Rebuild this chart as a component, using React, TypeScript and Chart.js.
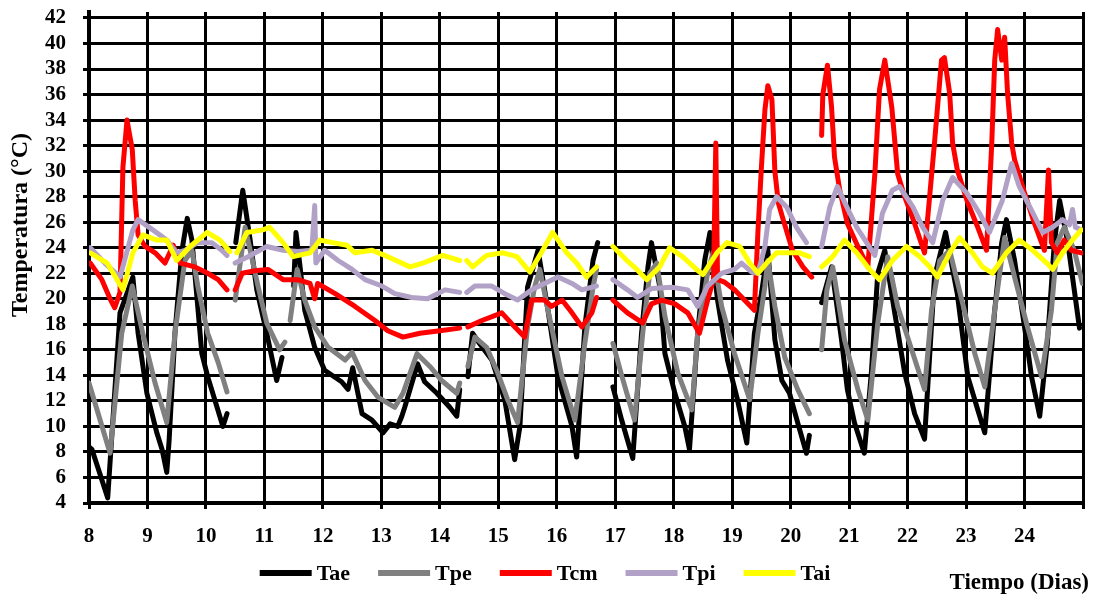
import { useEffect, useRef } from 'react';
import { Chart, registerables } from 'chart.js';

Chart.register(...registerables);

const FONT = '"Liberation Serif", "Times New Roman", serif';

type Pt = [number, number | null];

// Daily ticks on the time axis (dias) and temperature ticks (°C)
const diasTicks = [8, 9, 10, 11, 12, 13, 14, 15, 16, 17, 18, 19, 20, 21, 22, 23, 24, 25];
const tempTicks = [4, 6, 8, 10, 12, 14, 16, 18, 20, 22, 24, 26, 28, 30, 32, 34, 36, 38, 40, 42];

const seriesNames = ['Tae', 'Tpe', 'Tcm', 'Tpi', 'Tai'];
const seriesColors = ['#000000', '#808080', '#ff0000', '#b1a1c7', '#ffff00'];

// [día, temperatura]; null marks a break in the record
const tae: Pt[] = [
  [8.0, 8.4], [8.05, 8.2], [8.15, 6.8], [8.32, 4.4], [8.53, 18.9], [8.75, 21.7], [8.84, 17.3],
  [8.99, 12.6], [9.16, 9.5], [9.25, 8.2], [9.33, 6.4], [9.37, 8.9], [9.47, 17.3], [9.59, 23.8],
  [9.68, 26.3], [9.76, 24.6], [9.85, 19.9], [9.93, 15.7], [10.03, 13.9], [10.19, 11.5],
  [10.29, 10.0], [10.36, 11.0], [10.42, null],
  [10.51, 24.4], [10.63, 28.5], [10.75, 24.8], [10.87, 20.7], [11.04, 17.3], [11.21, 13.6],
  [11.3, 15.4], [11.37, null],
  [11.5, 21.0], [11.54, 25.2], [11.61, 22.5], [11.69, 19.1], [11.86, 16.2], [12.03, 14.4],
  [12.32, 13.5], [12.43, 12.9], [12.51, 14.6], [12.67, 11.0], [12.84, 10.5], [13.03, 9.5],
  [13.15, 10.2], [13.28, 10.0], [13.35, 10.8], [13.4, 11.5], [13.62, 14.9], [13.74, 13.5],
  [13.95, 12.6], [14.17, 11.5], [14.29, 10.8], [14.34, 12.9], [14.4, null],
  [14.48, 13.9], [14.56, 17.3], [14.68, 16.5], [14.89, 15.2], [15.11, 12.1], [15.28, 7.4],
  [15.37, 10.0], [15.5, 20.9], [15.68, 23.8], [15.85, 19.1], [16.02, 13.9], [16.26, 10.0],
  [16.34, 7.6], [16.48, 17.8], [16.62, 23.0], [16.7, 24.4], [16.85, null],
  [16.96, 13.1], [17.11, 10.5], [17.3, 7.5], [17.45, 17.3], [17.56, 22.5], [17.62, 24.4],
  [17.76, 21.0], [17.85, 15.7], [18.02, 12.6], [18.19, 10.0], [18.27, 8.2], [18.41, 17.3],
  [18.53, 23.0], [18.62, 25.2], [18.75, 19.9], [18.92, 15.2], [19.09, 12.1], [19.25, 8.7],
  [19.38, 17.3], [19.5, 20.4], [19.61, 23.8], [19.73, 16.8], [19.85, 13.6], [19.98, 12.6],
  [20.12, 10.3], [20.27, 7.9], [20.32, 9.3], [20.42, null],
  [20.53, 19.7], [20.7, 22.5], [20.87, 16.8], [20.97, 12.9], [21.09, 10.3], [21.26, 7.9],
  [21.38, 14.2], [21.49, 22.0], [21.61, 23.8], [21.78, 18.9], [21.95, 14.2], [22.12, 11.0],
  [22.29, 9.0], [22.46, 21.7], [22.65, 25.2], [22.85, 20.4], [23.03, 13.9], [23.2, 11.3],
  [23.32, 9.5], [23.49, 19.1], [23.61, 24.4], [23.69, 26.2], [23.83, 23.0], [24.0, 17.8],
  [24.12, 13.9], [24.26, 10.8], [24.39, 16.5], [24.51, 24.4], [24.6, 27.7], [24.74, 24.4],
  [24.94, 17.7],
];

const tpe: Pt[] = [
  [8.0, 13.4], [8.19, 10.5], [8.36, 7.9], [8.56, 17.3], [8.74, 21.0], [8.92, 17.3], [9.13, 13.4],
  [9.33, 10.3], [9.47, 17.3], [9.64, 23.0], [9.76, 23.8], [9.86, 21.0], [10.03, 17.3],
  [10.21, 15.0], [10.36, 12.7], [10.42, null],
  [10.5, 19.9], [10.67, 25.6], [10.89, 21.0], [11.04, 18.1], [11.26, 16.0], [11.35, 16.6],
  [11.39, null],
  [11.44, 18.3], [11.56, 22.3], [11.69, 19.9], [11.86, 17.8], [12.09, 16.2], [12.38, 15.2],
  [12.5, 15.8], [12.72, 13.6], [12.94, 12.3], [13.23, 11.5], [13.37, 12.6], [13.61, 15.7],
  [13.83, 14.7], [14.03, 13.6], [14.29, 12.6], [14.34, 13.4], [14.4, null],
  [14.48, 14.7], [14.6, 17.0], [14.8, 16.2], [14.99, 14.2], [15.16, 12.1], [15.33, 10.3],
  [15.5, 17.8], [15.62, 20.9], [15.71, 22.3], [15.85, 19.1], [16.09, 13.9], [16.31, 10.5],
  [16.48, 16.5], [16.62, 20.9], [16.68, 22.3], [16.85, null],
  [16.96, 16.5], [17.11, 14.0], [17.33, 10.5], [17.47, 17.3], [17.59, 22.0], [17.71, 22.8],
  [17.85, 18.6], [18.07, 14.2], [18.31, 11.3], [18.41, 17.3], [18.58, 22.0], [18.67, 23.6],
  [18.82, 19.4], [19.04, 15.7], [19.3, 12.1], [19.44, 17.3], [19.56, 21.0], [19.61, 23.0],
  [19.73, 19.4], [19.9, 15.4], [20.12, 12.9], [20.32, 11.0], [20.42, null],
  [20.53, 16.0], [20.62, 20.7], [20.72, 22.5], [20.92, 16.8], [21.15, 12.9], [21.32, 10.5],
  [21.49, 18.1], [21.66, 23.3], [21.83, 19.4], [22.07, 16.0], [22.29, 12.9], [22.41, 19.1],
  [22.55, 23.0], [22.72, 23.8], [22.97, 19.1], [23.15, 15.7], [23.32, 13.1], [23.49, 19.1],
  [23.66, 24.8], [23.83, 21.7], [24.05, 17.8], [24.29, 13.9], [24.46, 19.1], [24.56, 24.4],
  [24.68, 25.6], [24.85, 23.8], [24.99, 21.2],
];

const tcm: Pt[] = [
  [8.02, 22.8], [8.22, 21.5], [8.36, 20.0], [8.44, 19.3], [8.53, 20.5], [8.58, 30.3], [8.65, 34.0],
  [8.74, 31.7], [8.79, 27.7], [8.84, 25.0], [8.96, 24.1], [9.13, 23.6], [9.3, 22.8], [9.44, 24.2],
  [9.56, 22.8], [9.81, 22.5], [10.03, 22.0], [10.21, 21.5], [10.36, 20.7], [10.42, null],
  [10.5, 20.7], [10.62, 22.0], [10.84, 22.2], [11.06, 22.3], [11.32, 21.5], [11.57, 21.5],
  [11.78, 21.2], [11.86, 20.0], [11.91, 21.2], [12.21, 20.4], [12.55, 19.4], [12.89, 18.3],
  [13.11, 17.5], [13.37, 17.0], [13.66, 17.3], [14.0, 17.5], [14.34, 17.7], [14.4, null],
  [14.48, 17.8], [14.72, 18.3], [15.06, 18.9], [15.28, 17.8], [15.45, 17.0], [15.57, 19.9],
  [15.79, 19.9], [15.91, 19.4], [16.09, 19.9], [16.26, 18.9], [16.43, 17.8], [16.6, 18.9],
  [16.68, 20.1], [16.85, null],
  [16.96, 19.9], [17.21, 18.9], [17.47, 18.1], [17.62, 19.6], [17.79, 19.9], [18.02, 19.6],
  [18.24, 18.9], [18.44, 17.3], [18.58, 19.9], [18.68, 21.5], [18.72, 32.2], [18.75, 21.5],
  [18.87, 21.3], [19.04, 20.7], [19.21, 19.9], [19.38, 19.1], [19.44, 25.2], [19.5, 30.3],
  [19.56, 34.8], [19.61, 36.7], [19.68, 35.6], [19.73, 30.0], [19.79, 27.5], [19.86, 26.4],
  [20.03, 23.8], [20.21, 22.5], [20.36, 21.7], [20.44, null],
  [20.53, 32.8], [20.55, 36.0], [20.63, 38.3], [20.7, 35.0], [20.75, 31.1], [20.84, 28.5],
  [20.97, 25.9], [21.15, 24.1], [21.32, 22.5], [21.44, 29.8], [21.52, 36.4], [21.61, 38.7],
  [21.73, 35.0], [21.83, 29.8], [21.95, 28.0], [22.12, 25.9], [22.29, 23.6], [22.46, 32.2],
  [22.58, 38.7], [22.63, 38.9], [22.72, 36.1], [22.77, 32.2], [22.85, 30.1], [23.03, 27.5],
  [23.2, 25.6], [23.35, 23.8], [23.44, 32.2], [23.49, 38.7], [23.54, 41.1], [23.61, 38.7],
  [23.66, 40.5], [23.71, 36.1], [23.78, 32.2], [23.83, 30.9], [24.0, 28.3], [24.17, 25.9],
  [24.34, 23.8], [24.41, 30.1], [24.46, 24.4], [24.56, 23.6], [24.68, 24.6], [24.8, 23.8],
  [24.97, 23.6],
];

const tpi: Pt[] = [
  [8.02, 24.0], [8.27, 22.8], [8.53, 21.7], [8.75, 25.4], [8.84, 26.2], [9.09, 25.4], [9.33, 24.6],
  [9.5, 23.6], [9.64, 23.8], [9.86, 24.4], [10.1, 24.4], [10.27, 23.8], [10.36, 23.4],
  [10.42, null],
  [10.5, 22.8], [10.72, 23.3], [11.04, 24.1], [11.32, 23.8], [11.57, 23.7], [11.81, 23.8],
  [11.86, 27.3], [11.88, 22.8], [12.03, 23.8], [12.26, 23.0], [12.5, 22.3], [12.72, 21.5],
  [13.01, 21.0], [13.23, 20.4], [13.52, 20.1], [13.79, 20.0], [14.09, 20.7], [14.34, 20.5],
  [14.4, null],
  [14.46, 20.5], [14.6, 21.0], [14.89, 21.0], [15.11, 20.4], [15.33, 19.9], [15.57, 20.7],
  [15.79, 21.2], [16.02, 21.7], [16.26, 21.2], [16.43, 20.7], [16.68, 21.0], [16.85, null],
  [16.96, 21.5], [17.21, 20.7], [17.38, 20.1], [17.62, 20.8], [17.97, 20.9], [18.24, 20.7],
  [18.41, 19.4], [18.58, 21.0], [18.82, 22.0], [19.04, 22.3], [19.16, 22.8], [19.33, 22.1],
  [19.44, 22.0], [19.56, 24.1], [19.64, 27.0], [19.76, 28.0], [19.93, 27.2], [20.1, 25.6],
  [20.27, 24.4], [20.42, null],
  [20.53, 24.1], [20.67, 27.2], [20.8, 28.8], [20.96, 27.2], [21.13, 25.6], [21.3, 24.4],
  [21.44, 23.4], [21.57, 26.7], [21.74, 28.5], [21.86, 28.8], [22.09, 27.2], [22.26, 25.6],
  [22.43, 24.4], [22.6, 27.7], [22.77, 29.5], [23.01, 28.3], [23.23, 26.7], [23.4, 25.2],
  [23.62, 27.7], [23.78, 30.6], [23.91, 28.8], [24.09, 27.2], [24.31, 25.2], [24.48, 25.6],
  [24.65, 26.2], [24.77, 25.8], [24.82, 27.0], [24.87, 25.6], [24.97, 25.4],
];

const tai: Pt[] = [
  [8.02, 23.6], [8.31, 22.8], [8.58, 20.7], [8.75, 23.6], [8.92, 25.0], [9.16, 24.6], [9.33, 24.6],
  [9.5, 23.0], [9.73, 24.1], [10.02, 25.2], [10.24, 24.6], [10.41, 23.7], [10.45, null],
  [10.53, 23.6], [10.7, 25.2], [10.97, 25.4], [11.09, 25.6], [11.32, 24.4], [11.49, 23.3],
  [11.78, 23.6], [11.95, 24.6], [12.17, 24.4], [12.41, 24.2], [12.55, 23.6], [12.84, 23.8],
  [13.11, 23.3], [13.49, 22.5], [13.71, 22.8], [14.05, 23.4], [14.34, 23.0], [14.4, null],
  [14.46, 23.0], [14.56, 22.5], [14.8, 23.4], [15.08, 23.6], [15.32, 23.3], [15.54, 22.1],
  [15.76, 23.8], [15.93, 25.2], [16.17, 23.6], [16.34, 22.8], [16.51, 21.7], [16.68, 22.5],
  [16.85, null],
  [16.96, 24.1], [17.2, 23.0], [17.37, 22.3], [17.54, 21.5], [17.76, 22.5], [17.93, 24.0],
  [18.15, 23.3], [18.39, 22.3], [18.5, 21.9], [18.74, 23.6], [18.91, 24.4], [19.13, 24.1],
  [19.3, 22.8], [19.44, 22.0], [19.59, 22.8], [19.76, 23.6], [19.98, 23.6], [20.15, 23.6],
  [20.32, 23.3], [20.42, null],
  [20.53, 22.5], [20.72, 23.3], [20.92, 24.6], [21.13, 23.6], [21.35, 22.3], [21.52, 21.5],
  [21.74, 23.0], [21.98, 24.1], [22.21, 23.3], [22.38, 22.5], [22.51, 21.7], [22.72, 23.6],
  [22.89, 24.8], [23.11, 23.6], [23.28, 22.5], [23.45, 22.0], [23.69, 23.6], [23.91, 24.6],
  [24.14, 23.8], [24.38, 22.8], [24.48, 22.3], [24.65, 23.6], [24.82, 24.6], [24.97, 25.4],
];

const seriesData = [tae, tpe, tcm, tpi, tai];

const yTitle = 'Temperatura (°C)';
const xTitle = 'Tiempo (Dias)';

// Axis titles beside / beneath the plot
const axisTitles = {
  id: 'axisTitles',
  afterDraw(chart: any) {
    const ctx: CanvasRenderingContext2D = chart.ctx;
    ctx.save();
    ctx.fillStyle = '#000';
    ctx.font = `bold 24px ${FONT}`;
    ctx.textAlign = 'center';
    ctx.textBaseline = 'middle';
    ctx.translate(21, 225);
    ctx.rotate(-Math.PI / 2);
    ctx.fillText(yTitle, 0, 0);
    ctx.restore();

    ctx.save();
    ctx.fillStyle = '#000';
    ctx.font = `bold 23px ${FONT}`;
    ctx.textAlign = 'right';
    ctx.textBaseline = 'alphabetic';
    ctx.fillText(xTitle, 1089, 589);
    ctx.restore();
  },
};

// Legend row under the plot: a line sample followed by the series name
const legendRow = {
  id: 'legendRow',
  afterDraw(chart: any) {
    const ctx: CanvasRenderingContext2D = chart.ctx;
    const sets = chart.data.datasets;
    const sample = 52;
    const gapText = 5;
    const gapItem = 28;
    ctx.save();
    ctx.font = `bold 22px ${FONT}`;
    const widths: number[] = sets.map((d: any) => ctx.measureText(d.label).width);
    const total = widths.reduce((a, w) => a + sample + gapText + w, 0) + gapItem * (sets.length - 1);
    let x = 545 - total / 2;
    const y = 573;
    for (let i = 0; i < sets.length; i++) {
      const d = sets[i];
      ctx.strokeStyle = d.borderColor;
      ctx.lineWidth = 6;
      ctx.beginPath();
      ctx.moveTo(x, y);
      ctx.lineTo(x + sample, y);
      ctx.stroke();
      ctx.fillStyle = '#000';
      ctx.textAlign = 'left';
      ctx.textBaseline = 'middle';
      ctx.fillText(d.label, x + sample + gapText, y + 1);
      x += sample + gapText + widths[i] + gapItem;
    }
    ctx.restore();
  },
};

export default function App() {
  const ref = useRef<HTMLCanvasElement>(null);

  useEffect(() => {
    if (!ref.current) return;
    const datasets = seriesNames.map((name, i) => ({
      label: name,
      data: seriesData[i].map(([x, y]) => ({ x, y })),
      borderColor: seriesColors[i],
      backgroundColor: seriesColors[i],
      borderWidth: 5,
      pointRadius: 0,
      pointHoverRadius: 0,
      tension: 0,
      borderJoinStyle: 'round' as const,
      borderCapStyle: 'round' as const,
      spanGaps: false,
      order: seriesNames.length - i,
    }));

    const chart = new Chart(ref.current, {
      type: 'line',
      data: { datasets },
      options: {
        animation: false,
        responsive: false,
        devicePixelRatio: 1,
        events: [],
        layout: { padding: { top: 12, right: 11, bottom: 0, left: 0 } },
        plugins: { legend: { display: false }, tooltip: { enabled: false } },
        scales: {
          x: {
            type: 'linear',
            min: diasTicks[0],
            max: diasTicks[diasTicks.length - 1],
            afterBuildTicks: (s: any) => {
              s.ticks = diasTicks.map((v) => ({ value: v }));
            },
            afterFit: (s: any) => {
              s.height = 93;
              s.paddingLeft = 0;
              s.paddingRight = 0;
            },
            ticks: {
              autoSkip: false,
              maxRotation: 0,
              padding: 17,
              color: '#000',
              font: { family: FONT, size: 21, weight: 'bold', lineHeight: 1 },
              callback: (v: any) => (v === diasTicks[diasTicks.length - 1] ? '' : String(v)),
            },
            grid: { color: '#000', lineWidth: 3, tickLength: 6, tickWidth: 3, tickColor: '#000' },
            border: { color: '#000', width: 4 },
          },
          y: {
            type: 'linear',
            min: tempTicks[0],
            max: 42.47,
            afterBuildTicks: (s: any) => {
              s.ticks = tempTicks.map((v) => ({ value: v }));
            },
            afterFit: (s: any) => {
              s.width = 89;
              s.paddingTop = 0;
              s.paddingBottom = 0;
            },
            ticks: {
              padding: 17,
              color: '#000',
              font: { family: FONT, size: 21, weight: 'bold', lineHeight: 1 },
            },
            grid: { color: '#000', lineWidth: 3, tickLength: 6, tickWidth: 3, tickColor: '#000' },
            border: { color: '#000', width: 4 },
          },
        },
      },
      plugins: [axisTitles, legendRow],
    });
    return () => chart.destroy();
  }, []);

  return (
    <div style={{ position: 'fixed', left: 0, top: 0, width: 1094, height: 596, background: '#fff' }}>
      <canvas ref={ref} width={1094} height={596} style={{ display: 'block' }} />
    </div>
  );
}
